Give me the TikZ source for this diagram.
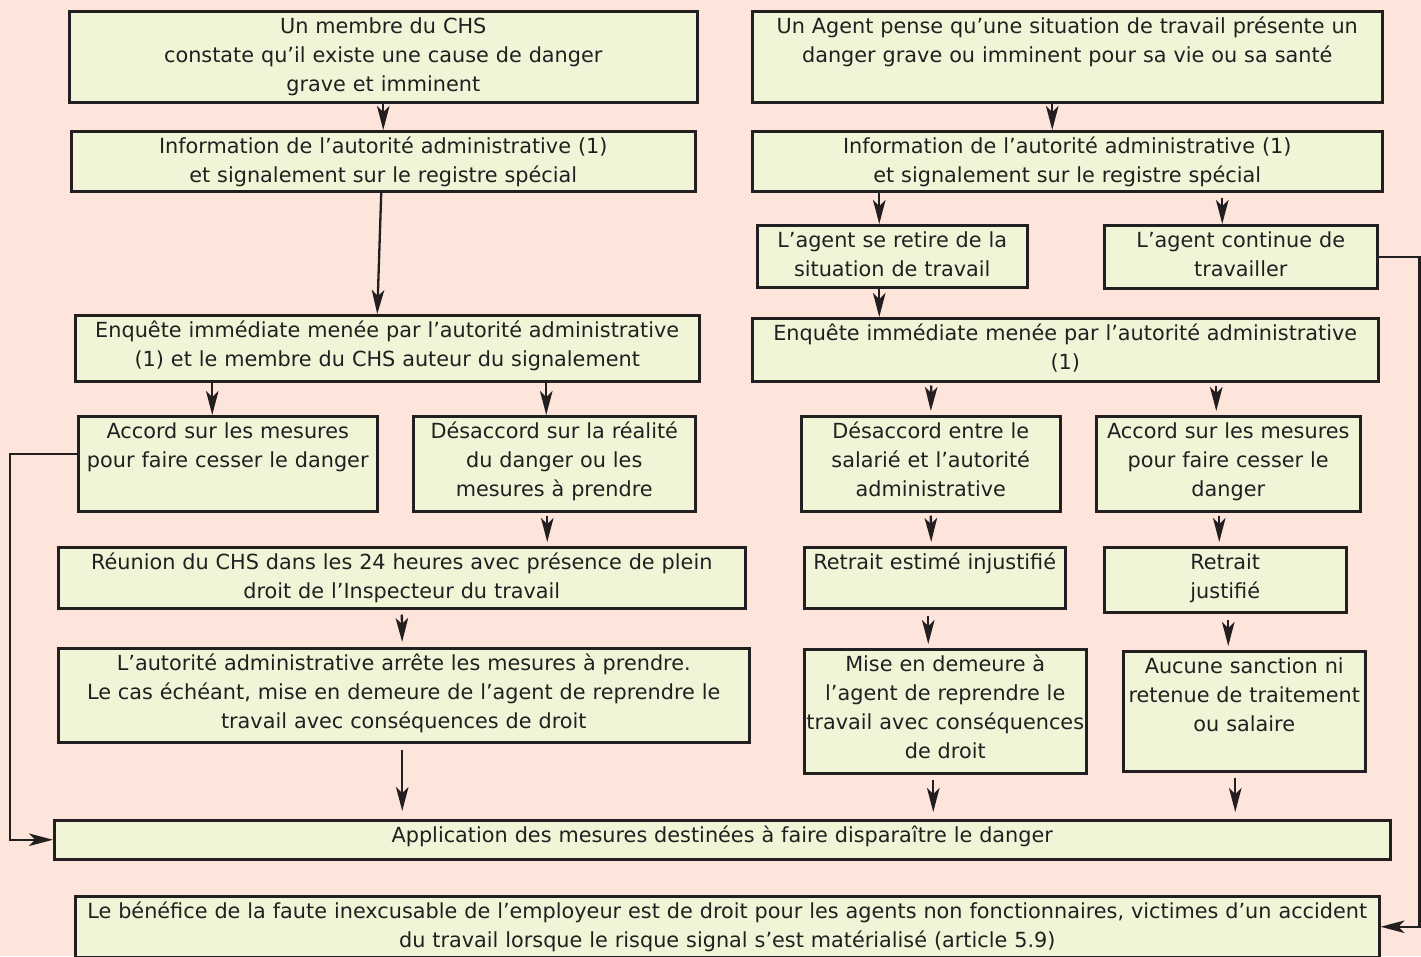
\documentclass[tikz,border=0pt]{standalone}
\usepackage{fontspec}
\setmainfont{DejaVu Sans}
\usepackage{tikz}
\usetikzlibrary{arrows.meta}
\definecolor{bgc}{HTML}{FDE5DC}
\definecolor{boxc}{HTML}{F0F5D8}
\definecolor{linec}{HTML}{231F20}
\tikzset{x=1pt, y=-1pt,
  box/.style 2 args={draw=linec, fill=boxc, line width=2.5pt, text=linec, anchor=north west,
    inner sep=0pt, align=center, text width=#1pt, minimum width=#1pt,
    text height=22pt, text depth=#2pt, font=\fontsize{20.8}{29}\selectfont},
  arr/.style={-{Stealth[length=24pt,width=12.5pt,inset=6pt]}, line width=2.3pt, color=linec}}

\begin{document}
\begin{tikzpicture}
    \fill[bgc] (0,0) rectangle (1421,956);
    \useasboundingbox (0,0) rectangle (1421,956);
    % left column
    \node[box={628}{69}] (a1) at (68, 10) {Un membre du CHS\\constate qu’il existe une cause de danger\\grave et imminent};
    \node[box={624}{38}] (a2) at (70, 130) {Information de l’autorité administrative (1)\\et signalement sur le registre spécial};
    \node[box={624}{44}] (a3) at (74, 314) {Enquête immédiate menée par l’autorité administrative\\(1) et le membre du CHS auteur du signalement};
    \node[box={299}{73}] (a4) at (77, 415) {Accord sur les mesures\\pour faire cesser le danger};
    \node[box={282}{73}] (a5) at (412, 415) {Désaccord sur la réalité\\du danger ou les\\mesures à prendre};
    \node[box={687}{39}] (a6) at (57, 546) {Réunion du CHS dans les 24 heures avec présence de plein\\droit de l’Inspecteur du travail};
    \node[box={691}{72}] (a7) at (57, 647) {L’autorité administrative arrête les mesures à prendre.\\Le cas échéant, mise en demeure de l’agent de reprendre le\\travail avec conséquences de droit};
    % right column
    \node[box={630}{69}] (b1) at (751, 10) {Un Agent pense qu’une situation de travail présente un\\danger grave ou imminent pour sa vie ou sa santé};
    \node[box={630}{38}] (b2) at (751, 130) {Information de l’autorité administrative (1)\\et signalement sur le registre spécial};
    \node[box={270}{40}] (b3) at (756, 224) {L’agent se retire de la\\situation de travail};
    \node[box={273}{41}] (b4) at (1103, 224) {L’agent continue de\\travailler};
    \node[box={626}{41}] (b5) at (751, 317) {Enquête immédiate menée par l’autorité administrative\\(1)};
    \node[box={259}{73}] (b6) at (800, 415) {Désaccord entre le\\salarié et l’autorité\\administrative};
    \node[box={264}{73}] (b7) at (1095, 415) {Accord sur les mesures\\pour faire cesser le\\danger};
    \node[box={261}{39}] (b8) at (803, 546) {Retrait estimé injustifié};
    \node[box={242}{43}] (b9) at (1103, 546) {Retrait\\justifié};
    \node[box={282}{102}] (b10) at (803, 648) {Mise en demeure à\\l’agent de reprendre le\\travail avec conséquences\\de droit};
    \node[box={242}{98}] (b11) at (1122, 650) {Aucune sanction ni\\retenue de traitement\\ou salaire};
    % bottom
    \node[box={1336}{17}] (c1) at (53, 819) {Application des mesures destinées à faire disparaître le danger};
    \node[box={1304}{39}] (c2) at (74, 895) {Le bénéfice de la faute inexcusable de l’employeur est de droit pour les agents non fonctionnaires, victimes d’un accident\\du travail lorsque le risque signal s’est matérialisé (article 5.9)};
    \path[arr]
        (a1.south) edge (a2.north)
        ([xshift=-2]a2.south) edge ([xshift=-10]a3.north)
        ([xshift=-175]a3.south) edge ([xshift=-15.5]a4.north)
        ([xshift=159]a3.south) edge ([xshift=-8]a5.north)
        ([xshift=-7]a5.south) edge [shorten <=3pt, shorten >=4pt] ([xshift=145.5]a6.north)
        (a6.south) edge [shorten <=5pt, shorten >=5pt] ([xshift=-1.5]a7.north)
        ([xshift=-1.5]a7.south) edge [shorten <=6pt, shorten >=8pt] ([xshift=-320]c1.north)
        ([xshift=-15]b1.south) edge ([xshift=-15]b2.north)
        ([xshift=-188]b2.south) edge ([xshift=-13]b3.north)
        ([xshift=155]b2.south) edge [shorten <=5pt] ([xshift=-18.5]b4.north)
        ([xshift=-13]b3.south) edge ([xshift=-186]b5.north)
        ([xshift=-134]b5.south) edge [shorten <=3pt, shorten >=4pt] (b6.north)
        ([xshift=151]b5.south) edge [shorten <=3pt, shorten >=4pt] ([xshift=-12]b7.north)
        (b6.south) edge [shorten <=3pt, shorten >=4pt] ([xshift=-3.5]b8.north)
        ([xshift=-9]b7.south) edge [shorten <=3pt, shorten >=4pt] ([xshift=-6]b9.north)
        ([xshift=-6.5]b8.south) edge [shorten <=6pt, shorten >=4pt] ([xshift=-17]b10.north)
        ([xshift=3]b9.south) edge [shorten <=6pt, shorten >=4pt] ([xshift=-16]b11.north)
        ([xshift=-12]b10.south) edge [shorten <=5pt, shorten >=7pt] ([xshift=211]c1.north)
        ([xshift=-9]b11.south) edge [shorten <=5pt, shorten >=7pt] ([xshift=513]c1.north)
        ;
    \draw[arr] ([yshift=9.5]a4.west) -- ++(-67, 0) |- (c1.west);
    \draw[arr] (b4.east) -- ++(41, 0) |- (c2.east);
\end{tikzpicture}
\end{document}
